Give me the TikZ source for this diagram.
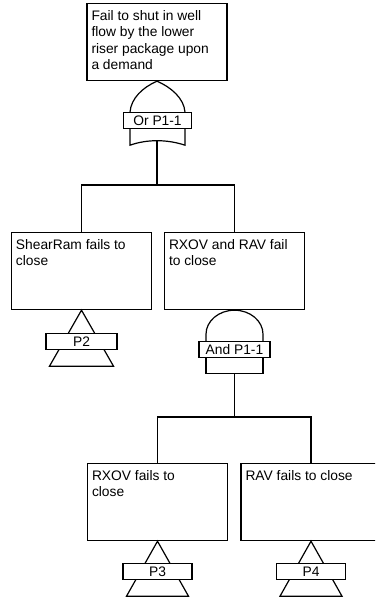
\documentclass[tikz,border=0pt]{standalone}
\usepackage{fontspec}
\setmainfont{Liberation Sans}
\usetikzlibrary{positioning}
\tikzset{
  event/.style={draw, line width=1.2pt, anchor=north, inner xsep=4.5pt, inner ysep=7pt,
    minimum width=140pt, minimum height=77pt},
  gatelbl/.style={draw, fill=white, line width=1.2pt, inner sep=0pt,
    minimum height=16pt, text height=10pt, text depth=0pt},
  wire/.style={line width=1.2pt, line join=miter},
}
\newcommand{\evtext}[1]{\parbox[c][63pt][t]{131pt}{\raggedright #1}}

\begin{document}
\begin{tikzpicture}[x=1pt, y=-1pt, font=\fontsize{13.8}{16.3}\selectfont]
\useasboundingbox (0,0) rectangle (375,601);
\clip (0,0) rectangle (375,601);
% events
\node[event] (topev) at (157,3) {\evtext{Fail to shut in well\\flow by the lower\\riser package upon\\a demand}};
\node[event] (shear) at (81.5,232) {\evtext{ShearRam fails to\\close}};
\node[event] (rxrav) at (234.5,232) {\evtext{RXOV and RAV fail\\to close}};
\node[event] (rxov) at (157.5,463) {\evtext{RXOV fails to\\close}};
\node[event] (rav) at (311,463) {\evtext{RAV fails to close}};
% or gate
\begin{scope}[shift={(topev.south)}]
\draw[wire] (-27,31) .. controls (-26,17) and (-14,6) .. (0,0) .. controls (14,6) and (27,17) .. (28,31);
\draw[wire] (-27,47) -- (-27,64) .. controls (-10,58) and (10,58) .. (28,64) -- (28,47);
\node[gatelbl, minimum width=68pt] (orlbl) at (0.5,39) {Or P1-1};
\coordinate (orout) at (0,59.5);
\end{scope}
\draw[wire] (shear.north) -- ++(0,-47) coordinate (orbus) -| (rxrav.north);
\draw[wire] (orout) -- (orout |- orbus);
% and gate
\begin{scope}[shift={(rxrav.south)}]
\draw[wire] (-28.5,31) -- (-28.5,24) .. controls (-28.5,10.8) and (-15.7,0) .. (0,0)
  .. controls (15.7,0) and (28.5,10.8) .. (28.5,24) -- (28.5,31);
\draw[wire] (-28.5,47) -- (-28.5,63) -- (28.5,63) -- (28.5,47);
\node[gatelbl, minimum width=71pt] (andlbl) at (0,39) {And P1-1};
\coordinate (andout) at (0,63);
\end{scope}
\draw[wire] (rxov.north) -- ++(0,-46) coordinate (andbus) -| (rav.north);
\draw[wire] (andout) -- (andout |- andbus);
% transfers
\begin{scope}[shift={(shear.south)}]
\draw[wire] (-32,56) -- (0,0) -- (32,56) -- cycle;
\node[gatelbl, minimum width=71pt] (p2) at (0,31) {P2};
\end{scope}
\begin{scope}[shift={(rxov.south)}]
\draw[wire] (-31,55) -- (0,0) -- (31,55) -- cycle;
\node[gatelbl, minimum width=69pt] (p3) at (0,30.5) {P3};
\end{scope}
\begin{scope}[shift={(rav.south)}]
\draw[wire] (-31,55) -- (0,0) -- (31,55) -- cycle;
\node[gatelbl, minimum width=69pt] (p4) at (0,30.5) {P4};
\end{scope}
\end{tikzpicture}
\end{document}
